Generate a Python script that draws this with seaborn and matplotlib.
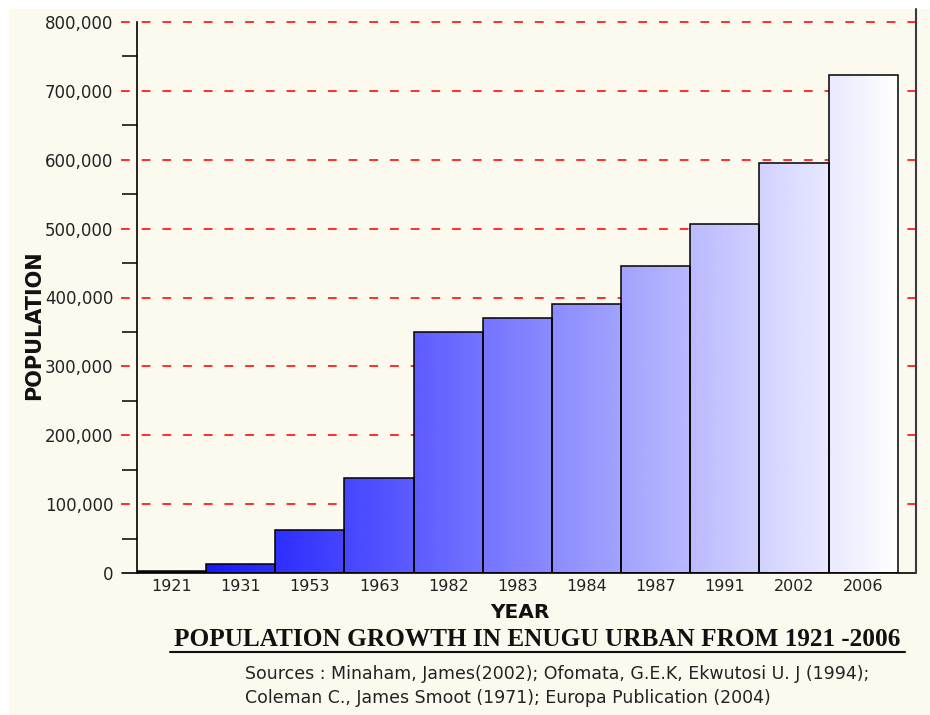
import numpy as np
import pandas as pd
import matplotlib
matplotlib.use("Agg")
import matplotlib.pyplot as plt
import matplotlib.transforms as mtransforms
from matplotlib.colors import LinearSegmentedColormap
from matplotlib.lines import Line2D
from matplotlib.patches import Rectangle
from matplotlib.ticker import FixedLocator
import seaborn as sns

# Census / estimate figures for Enugu urban area
years = ["1921", "1931", "1953", "1963", "1982", "1983", "1984", "1987", "1991", "2002", "2006"]
population = [3170, 12959, 62764, 138457, 350000, 370000, 390000, 446000, 507000, 595000, 722664]

y_ticks = [0, 100000, 200000, 300000, 400000, 500000, 600000, 700000, 800000]
y_tick_labels = ["0", "100,000", "200,000", "300,000", "400,000",
                 "500,000", "600,000", "700,000", "800,000"]
y_minor_ticks = [50000, 150000, 250000, 350000, 450000, 550000, 650000, 750000]

title = "POPULATION GROWTH IN ENUGU URBAN FROM 1921 -2006"
sources = ["Sources : Minaham, James(2002); Ofomata, G.E.K, Ekwutosi U. J (1994);",
           "Coleman C., James Smoot (1971); Europa Publication (2004)"]

W, H = 930, 715
CREAM = "#FCFAEF"
TEXT = "#222222"

sns.set_theme(style="white")
plt.rcParams["font.family"] = ["DejaVu Sans"]
plt.rcParams["lines.scale_dashes"] = False


def fx(px):
    return px / W


def fy(py):
    return 1 - py / H


fig = plt.figure(figsize=(W / 100, H / 100), dpi=100, facecolor="white")
fig.patches.append(Rectangle((fx(9), 0), 1 - fx(9), fy(9), transform=fig.transFigure,
                             facecolor=CREAM, edgecolor="none", zorder=-10))

ax_l, ax_r, ax_t, ax_b = 137, 916, 22, 573
ax = fig.add_axes([fx(ax_l), fy(ax_b), fx(ax_r) - fx(ax_l), fy(ax_t) - fy(ax_b)])
ax.patch.set_visible(False)

df = pd.DataFrame({"year": years, "population": population})
sns.barplot(data=df, x="year", y="population", ax=ax, width=1.0, color="white",
            errorbar=None, zorder=2)

bars = list(ax.patches)
for bar in bars:
    bar.set_facecolor("none")
    bar.set_edgecolor("black")
    bar.set_linewidth(1.1)
    bar.set_zorder(3)

# Horizontal blue-to-white gradient running across the full bar span
x0 = bars[0].get_x()
x1 = bars[-1].get_x() + bars[-1].get_width()
cmap = LinearSegmentedColormap.from_list("blue_white", [(0.0, 0.0, 1.0), (1.0, 1.0, 1.0)])
grad = np.linspace(0, 1, 512).reshape(1, -1)
for bar in bars:
    im = ax.imshow(grad, cmap=cmap, extent=(x0, x1, 0, y_ticks[-1]), aspect="auto",
                   origin="lower", zorder=2, interpolation="bilinear")
    im.set_clip_path(bar)

ax.set_xlim(-0.5, 10.765)
ax.set_ylim(0, y_ticks[-1])

span = ax_r - ax_l
ext = -16 / span
trans = mtransforms.blended_transform_factory(ax.transAxes, ax.transData)
for v in y_ticks[1:]:
    ax.add_line(Line2D([ext, 1], [v, v], transform=trans, color="#FF0A0A", lw=1.2,
                       dashes=(6.3, 8.6), clip_on=False, zorder=1))
# baseline
ax.add_line(Line2D([-15 / span, 1], [0, 0], transform=trans, color="black", lw=1.2,
                   clip_on=False, zorder=4))

for s in ["top", "right", "bottom"]:
    ax.spines[s].set_visible(False)
ax.spines["left"].set_color("black")
ax.spines["left"].set_linewidth(1.2)
ax.spines["left"].set_zorder(4)

# outer right border line
fig.add_artist(Line2D([fx(916), fx(916)], [fy(9), fy(573)], transform=fig.transFigure,
                      color="#3A3A3A", lw=1.5))

ax.set_yticks(y_ticks)
ax.set_yticklabels(y_tick_labels)
ax.yaxis.set_minor_locator(FixedLocator(y_minor_ticks))
ax.tick_params(axis="y", which="major", length=0, pad=17, labelsize=12, labelcolor=TEXT, left=False)
ax.tick_params(axis="y", which="minor", length=10.8, width=1.1, color="black", left=True)
ax.tick_params(axis="x", which="major", length=0, pad=4, labelsize=11.5, labelcolor=TEXT)
ax.set_xlabel("")
ax.set_ylabel("")

fig.text(fx(520), fy(612), "YEAR", ha="center", va="center", fontsize=14.5,
         fontweight="bold", color="#111111")
fig.text(fx(34), fy(325), "POPULATION", ha="center", va="center", rotation=90,
         fontsize=15, fontweight="bold", color="#111111")

fig.text(fx(537.5), fy(639), title, ha="center", va="center", fontsize=18.2,
         fontweight="bold", family="Liberation Serif", color="#111111")
fig.add_artist(Line2D([fx(170), fx(905)], [fy(651.5), fy(651.5)], transform=fig.transFigure,
                      color="#111111", lw=1.5))

fig.text(fx(245), fy(674), sources[0], ha="left", va="center", fontsize=12.5, color=TEXT)
fig.text(fx(245), fy(698), sources[1], ha="left", va="center", fontsize=12.5, color=TEXT)

fig.savefig("out.png", dpi=100, facecolor=fig.get_facecolor())
